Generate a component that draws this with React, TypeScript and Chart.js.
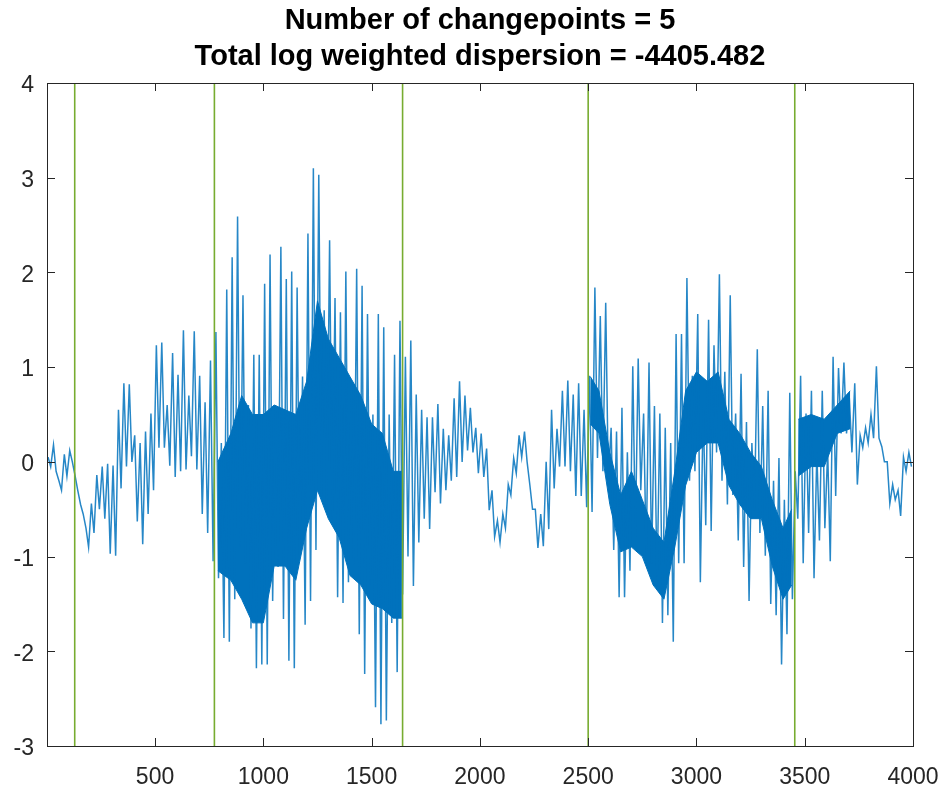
import React, { useEffect, useRef } from "react";
import { Chart, registerables } from "chart.js";

Chart.register(...registerables);

// ---- data ----
const titleLines = [
  "Number of changepoints = 5",
  "Total log weighted dispersion = -4405.482",
];
const xTicks = [500, 1000, 1500, 2000, 2500, 3000, 3500, 4000];
const yTicks = [-3, -2, -1, 0, 1, 2, 3, 4];
const changepoints = [129, 774, 1643, 2500, 3454];

// signal summarised as (high, low) pairs, one pair per 25 samples
const sampleStep = 25;
const hiVals = [
  0.05, 0.18, -0.2, 0.08, 0.12, -0.15, -0.45, -0.7, -0.44, -0.14,
  -0.05, -0.02, -0.04, 0.55, 0.83, 0.82, 0.28, 0.2, 0.32, 0.51,
  1.23, 1.26, 0.6, 1.15, 0.92, 1.39, 0.7, 1.38, 0.91, 0.63,
  1.07, 1.37, 0.2, 1.82, 2.16, 2.59, 1.76, 0.6, 1.13, 1.13,
  1.88, 2.19, 0.6, 2.27, 1.93, 2.01, 1.84, 0.9, 2.41, 3.1,
  3.03, 1.6, 2.34, 1.73, 1.58, 2.01, 0.8, 2.04, 1.86, 1.56,
  0.5, 1.56, 1.42, 0.5, 1.13, 1.49, 1.11, 1.28, 0.71, 0.55,
  0.47, 0.47, 0.61, 0.35, 0.28, 0.67, 0.85, 0.7, 0.57, 0.36,
  0.3, 0.14, -0.3, -0.62, -0.55, -0.24, 0.04, 0.28, 0.32, -0.25,
  -0.5, -0.55, 0.0, 0.55, 0.35, 0.75, 0.86, 0.71, 0.83, 0.55,
  0.91, 1.84, 1.54, 1.68, 0.36, 0.32, 0.57, 0.1, 1.01, 1.09,
  0.51, 1.05, 0.59, 0.51, 0.36, 0.2, 1.35, 1.35, 1.94, 0.91,
  1.56, 0.6, 1.5, 1.23, 1.98, 0.95, 1.76, 0.51, 0.93, 0.42,
  0.2, 1.19, 0.59, 0.75, -0.2, 0.04, -0.4, 0.73, -0.1, 0.91,
  0.51, 0.75, 0.1, 0.75, 0.12, 1.11, 0.99, 1.05, 0.67, 0.83,
  0.28, 0.36, 0.5, 1.01, 0.16, 0.0, -0.24, -0.3, 0.05, 0.1,
];
const loVals = [
  -0.05, -0.1, -0.3, -0.15, 0.0, -0.3, -0.55, -0.9, -0.75, -0.5,
  -0.6, -0.97, -0.99, -0.28, -0.05, 0.0, -0.63, -0.87, -0.55, -0.3,
  0.15, 0.15, -0.04, -0.16, -0.1, -0.08, 0.06, -0.08, -0.55, -0.75,
  -1.05, -1.23, -1.86, -1.9, -1.45, -0.9, -1.07, -1.76, -2.18, -2.14,
  -2.14, -1.47, -1.11, -1.66, -2.1, -2.18, -1.0, -1.72, -1.47, -0.93,
  -0.36, -0.51, -0.6, -1.43, -1.49, -1.27, -1.1, -1.82, -2.24, -1.3,
  -2.59, -2.77, -2.73, -1.7, -2.22, -1.4, -1.0, -1.31, -0.85, -0.6,
  -0.71, -0.32, -0.44, -0.3, -0.2, -0.16, 0.0, 0.12, 0.1, -0.12,
  -0.16, -0.51, -0.79, -0.85, -0.7, -0.35, -0.12, 0.05, 0.0, -0.5,
  -0.91, -0.89, -0.71, -0.28, -0.05, -0.05, -0.1, -0.36, -0.36, -0.48,
  -0.53, 0.04, -0.1, -0.2, -0.93, -1.43, -1.43, -1.15, -0.79, -0.3,
  -0.99, -1.07, -1.31, -1.7, -1.62, -1.9, -1.07, -1.07, -0.2, -0.1,
  -1.27, -0.67, -0.73, 0.1, -0.2, -0.45, -0.35, -0.83, -1.11, -1.47,
  -0.51, -0.75, -0.99, -1.5, -1.62, -2.14, -1.82, -1.45, -0.6, -1.07,
  -0.75, -1.23, -0.83, -0.7, -1.05, -0.36, 0.3, 0.3, 0.1, -0.24,
  0.15, 0.2, 0.25, 0.25, 0.0, -0.44, -0.4, -0.57, -0.1, -0.05,
];

// dense (solid) core of the signal in its noisy stretches
const core1X = [790, 850, 900, 950, 1000, 1050, 1100, 1150, 1200, 1250, 1300, 1350, 1400, 1450, 1500, 1550, 1600, 1640];
const core1Hi = [0.0, 0.3, 0.7, 0.5, 0.5, 0.6, 0.55, 0.5, 0.85, 1.7, 1.3, 1.1, 0.9, 0.7, 0.4, 0.3, -0.1, -0.1];
const core1Lo = [-1.15, -1.25, -1.45, -1.7, -1.7, -1.1, -1.1, -1.25, -0.7, -0.3, -0.6, -0.8, -1.2, -1.3, -1.5, -1.55, -1.65, -1.65];
const core2X = [2510, 2550, 2600, 2650, 2700, 2750, 2800, 2850, 2900, 2950, 3000, 3050, 3100, 3150, 3200, 3250, 3300, 3350, 3400, 3440];
const core2Hi = [0.9, 0.75, 0.1, -0.35, -0.1, -0.4, -0.7, -0.85, -0.1, 0.75, 0.95, 0.85, 0.95, 0.45, 0.3, 0.1, -0.05, -0.4, -0.7, -0.5];
const core2Lo = [0.4, 0.3, -0.45, -0.95, -0.9, -1.0, -1.3, -1.45, -0.9, -0.25, 0.1, 0.2, 0.2, -0.25, -0.45, -0.6, -0.6, -1.1, -1.45, -1.3];
const core3X = [3470, 3530, 3590, 3650, 3710];
const core3Hi = [0.45, 0.5, 0.45, 0.6, 0.75];
const core3Lo = [-0.15, -0.05, -0.05, 0.3, 0.35];

// ---- styling ----
const FONT = '"Liberation Sans", Arial, Helvetica, sans-serif';
const AXIS_COLOR = "#262626";
const SIGNAL_COLOR = "#0072BD";
const SIGNAL_LINE = "rgba(0, 114, 189, 0.85)";
const CP_COLOR = "#77AC30";

const boxPlugin = {
  id: "matlabBox",
  afterDraw(chart: any) {
    const { ctx, chartArea: a, scales } = chart;
    const x = scales.x;
    const y = scales.y;
    const L = 8;
    ctx.save();
    ctx.strokeStyle = AXIS_COLOR;
    ctx.lineWidth = 1;
    ctx.strokeRect(Math.round(a.left) + 0.5, Math.round(a.top) + 0.5, Math.round(a.right - a.left), Math.round(a.bottom - a.top));
    ctx.beginPath();
    xTicks.forEach((v) => {
      const px = Math.round(x.getPixelForValue(v)) + 0.5;
      ctx.moveTo(px, a.bottom);
      ctx.lineTo(px, a.bottom - L);
      ctx.moveTo(px, a.top);
      ctx.lineTo(px, a.top + L);
    });
    yTicks.forEach((v) => {
      const py = Math.round(y.getPixelForValue(v)) + 0.5;
      ctx.moveTo(a.left, py);
      ctx.lineTo(a.left + L, py);
      ctx.moveTo(a.right, py);
      ctx.lineTo(a.right - L, py);
    });
    ctx.stroke();
    ctx.restore();
  },
};

function band(xs: number[], his: number[], los: number[]) {
  return [
    {
      data: xs.map((x, i) => ({ x, y: his[i] })),
      borderWidth: 1,
      borderColor: SIGNAL_COLOR,
      pointRadius: 0,
      fill: false,
      order: 2,
    },
    {
      data: xs.map((x, i) => ({ x, y: los[i] })),
      borderWidth: 1,
      borderColor: SIGNAL_COLOR,
      backgroundColor: SIGNAL_COLOR,
      pointRadius: 0,
      fill: "-1",
      order: 2,
    },
  ];
}

export default function App() {
  const canvasRef = useRef<HTMLCanvasElement | null>(null);

  useEffect(() => {
    if (!canvasRef.current) return;

    const signal: { x: number; y: number }[] = [];
    hiVals.forEach((h, i) => {
      signal.push({ x: i * sampleStep + 6, y: h });
      signal.push({ x: i * sampleStep + 18, y: loVals[i] });
    });

    const cpSets = changepoints.map((c) => ({
      data: [
        { x: c, y: yTicks[0] },
        { x: c, y: yTicks[yTicks.length - 1] },
      ],
      borderColor: CP_COLOR,
      borderWidth: 1.6,
      pointRadius: 0,
      order: 0,
    }));

    const chart = new Chart(canvasRef.current, {
      type: "line",
      data: {
        datasets: [
          ...cpSets,
          ...band(core1X, core1Hi, core1Lo),
          ...band(core2X, core2Hi, core2Lo),
          ...band(core3X, core3Hi, core3Lo),
          {
            data: signal,
            borderColor: SIGNAL_LINE,
            borderWidth: 1.5,
            pointRadius: 0,
            tension: 0,
            order: 1,
          },
        ],
      },
      options: {
        responsive: false,
        animation: false,
        devicePixelRatio: 1,
        layout: { padding: { top: 0, right: 32, bottom: 0, left: 0 } },
        plugins: {
          legend: { display: false },
          tooltip: { enabled: false },
          title: {
            display: true,
            fullSize: false,
            text: titleLines,
            color: "#000000",
            font: { family: FONT, size: 29, weight: "bold", lineHeight: 1.25 },
            padding: { top: 3, bottom: 7.5 },
          },
        },
        scales: {
          x: {
            type: "linear",
            min: 1,
            max: 4000,
            afterBuildTicks: (s: any) => {
              s.ticks = xTicks.map((v) => ({ value: v }));
            },
            afterFit: (s: any) => {
              s.height = 42;
              s.paddingLeft = 0;
              s.paddingRight = 0;
            },
            grid: { display: false, drawTicks: false },
            border: { display: false },
            ticks: {
              color: AXIS_COLOR,
              font: { family: FONT, size: 23 },
              padding: 18,
              maxRotation: 0,
              autoSkip: false,
              callback: (v: any) => String(v),
            },
          },
          y: {
            type: "linear",
            min: -3,
            max: 4,
            afterBuildTicks: (s: any) => {
              s.ticks = yTicks.map((v) => ({ value: v }));
            },
            afterFit: (s: any) => {
              s.width = 47;
              s.paddingTop = 0;
              s.paddingBottom = 0;
            },
            grid: { display: false, drawTicks: false },
            border: { display: false },
            ticks: {
              color: AXIS_COLOR,
              font: { family: FONT, size: 23 },
              padding: 13,
              labelOffset: 3,
              callback: (v: any) => String(v),
            },
          },
        },
      },
      plugins: [boxPlugin],
    });

    return () => chart.destroy();
  }, []);

  return (
    <div style={{ position: "absolute", left: 0, top: 0, width: 945, height: 788, background: "#fff" }}>
      <canvas ref={canvasRef} width={945} height={788} />
    </div>
  );
}
